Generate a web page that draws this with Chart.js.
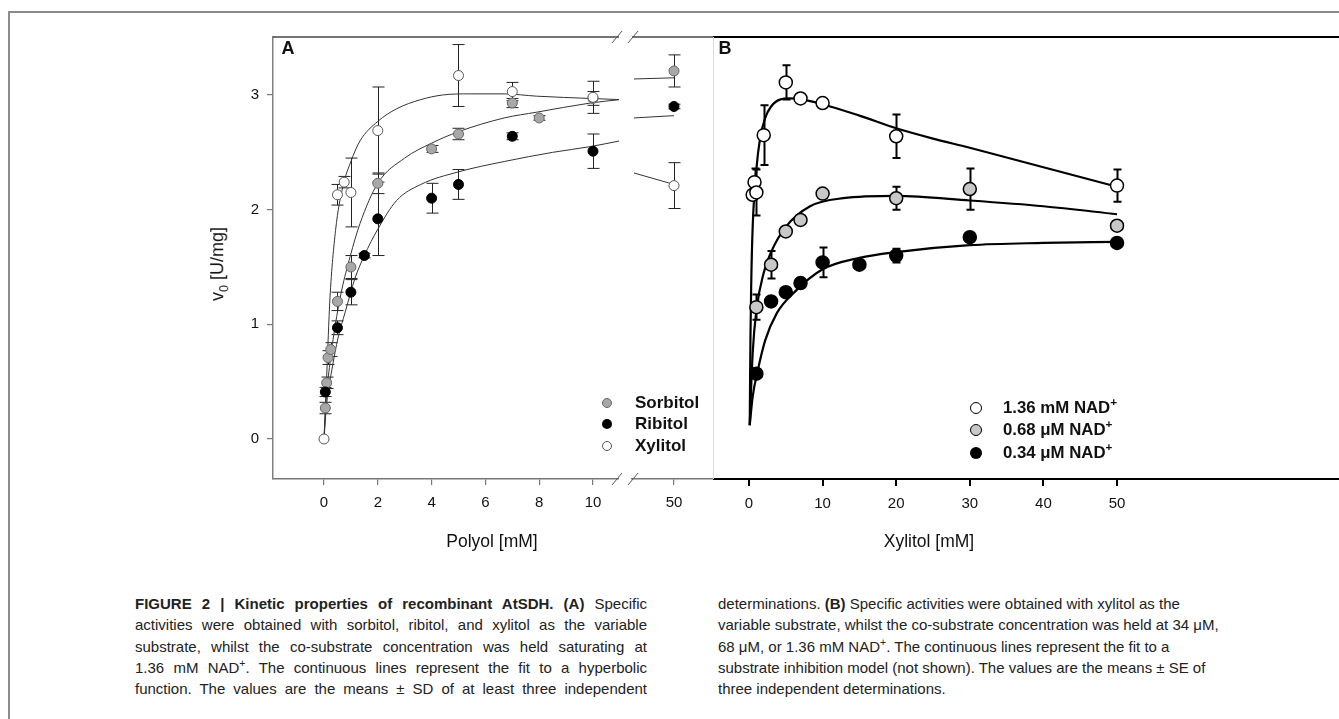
<!DOCTYPE html>
<html>
<head>
<meta charset="utf-8">
<script src="https://cdn.jsdelivr.net/npm/chart.js@4.4.0/dist/chart.umd.min.js"></script>
<style>
  body { margin:0; width:1339px; height:719px; background:#fff; position:relative; overflow:hidden; font-family:"Liberation Sans", Arial, sans-serif; }
  .frame { position:absolute; left:8px; top:11px; width:1400px; height:800px; border-left:2px solid #8c8c8c; border-top:2px solid #8c8c8c; }
  canvas { position:absolute; }
  .t { position:absolute; white-space:nowrap; color:#111; transform:translate(0,-50%); }
  .c { transform:translate(-50%,-50%); }
  .leg { font-weight:bold; }
  .dot { position:absolute; border-radius:50%; box-sizing:border-box; transform:translate(-50%,-50%); }
  .cap { position:absolute; font-size:15px; line-height:21.3px; color:#222; white-space:nowrap; }
  .just div { width:512px; text-align:justify; text-align-last:justify; white-space:normal; }
  sup { font-size:0.7em; line-height:0; }
</style>
</head>
<body>
<div class="frame"></div>

<canvas id="cA1" width="419" height="530" style="left:200px;top:20px"></canvas>
<canvas id="cA2" width="103" height="530" style="left:610px;top:20px"></canvas>
<canvas id="cB" width="626" height="530" style="left:713px;top:20px"></canvas>

<div class="t c" style="left:288px;top:48px;font-weight:bold;font-size:18px">A</div>
<div class="t c" style="left:725px;top:48px;font-weight:bold;font-size:18px">B</div>

<div class="t c" style="left:219px;top:264px;font-size:18px;transform:translate(-50%,-50%) rotate(-90deg)">v<sub style="font-size:0.7em">0</sub> [U/mg]</div>
<div class="t c" style="left:492px;top:541px;font-size:17.5px">Polyol [mM]</div>
<div class="t c" style="left:929px;top:541px;font-size:17.5px">Xylitol [mM]</div>

<div class="dot" style="left:607px;top:403px;width:10px;height:10px;background:#a8a8a8;border:1px solid #666"></div>
<div class="dot" style="left:607px;top:424px;width:10px;height:10px;background:#000"></div>
<div class="dot" style="left:607px;top:446px;width:10px;height:10px;background:#fff;border:1px solid #555"></div>
<div class="t leg" style="left:635px;top:403px;font-size:17px">Sorbitol</div>
<div class="t leg" style="left:635px;top:424px;font-size:17px">Ribitol</div>
<div class="t leg" style="left:635px;top:446px;font-size:17px">Xylitol</div>

<div class="dot" style="left:976px;top:408px;width:12px;height:12px;background:#fff;border:1.5px solid #000"></div>
<div class="dot" style="left:976px;top:430px;width:12px;height:12px;background:#c8c8c8;border:1.5px solid #000"></div>
<div class="dot" style="left:976px;top:453px;width:12px;height:12px;background:#000"></div>
<div class="t leg" style="left:1003px;top:408px;font-size:16.8px">1.36 mM NAD<sup>+</sup></div>
<div class="t leg" style="left:1003px;top:430px;font-size:16.8px">0.68 μM NAD<sup>+</sup></div>
<div class="t leg" style="left:1003px;top:453px;font-size:16.8px">0.34 μM NAD<sup>+</sup></div>

<div class="cap just" style="left:135px;top:593px">
<div><b>FIGURE 2 | Kinetic properties of recombinant AtSDH. (A)</b> Specific</div>
<div>activities were obtained with sorbitol, ribitol, and xylitol as the variable</div>
<div>substrate, whilst the co-substrate concentration was held saturating at</div>
<div>1.36 mM NAD<sup>+</sup>. The continuous lines represent the fit to a hyperbolic</div>
<div>function. The values are the means ± SD of at least three independent</div>
</div>
<div class="cap" style="left:718px;top:593px">
determinations. <b>(B)</b> Specific activities were obtained with xylitol as the<br>
variable substrate, whilst the co-substrate concentration was held at 34 μM,<br>
68 μM, or 1.36 mM NAD<sup>+</sup>. The continuous lines represent the fit to a<br>
substrate inhibition model (not shown). The values are the means ± SE of<br>
three independent determinations.
</div>

<script>
// ---- panel A data (polyol, 1.36 mM NAD+) ----
var sorbitolConc = [0.05, 0.1, 0.15, 0.25, 0.5, 1, 2, 4, 5, 7, 8, 10];
var sorbitolRate = [0.27, 0.49, 0.71, 0.78, 1.20, 1.50, 2.23, 2.53, 2.66, 2.93, 2.80, 2.97];
var sorbitolSD   = [0.05, 0.05, 0.06, 0.06, 0.08, 0.10, 0.09, 0.03, 0.05, 0.04, 0.02, 0.06];
var ribitolConc = [0.05, 0.5, 1, 1.5, 2, 4, 5, 7, 10];
var ribitolRate = [0.41, 0.97, 1.28, 1.60, 1.92, 2.10, 2.22, 2.64, 2.51];
var ribitolSD   = [0.04, 0.06, 0.11, 0.02, 0.32, 0.13, 0.13, 0.03, 0.15];
var xylitolConc = [0, 0.5, 0.75, 1, 2, 5, 7, 10];
var xylitolRate = [0, 2.13, 2.24, 2.15, 2.69, 3.17, 3.03, 2.98];
var xylitolSD   = [0, 0.09, 0.05, 0.30, 0.38, 0.27, 0.08, 0.14];

// 50 mM points, right of the axis break
var highConc = [50];
var sorbitolHigh = [3.21], sorbitolHighSD = [0.14];
var ribitolHigh = [2.90], ribitolHighSD = [0.02];
var xylitolHigh = [2.21], xylitolHighSD = [0.20];

// fitted curves
var sorbitolFitX = [0, 0.07, 0.22, 0.41, 0.66, 0.97, 1.34, 2, 3, 4, 5, 6.7, 7.9, 9.9, 11];
var sorbitolFitY = [0, 0.31, 0.66, 0.98, 1.30, 1.59, 1.88, 2.23, 2.45, 2.58, 2.68, 2.80, 2.85, 2.93, 2.96];
var ribitolFitX = [0, 0.1, 0.29, 0.53, 0.78, 1.15, 1.5, 2, 2.7, 3.6, 5, 6.7, 8.5, 9.9, 11];
var ribitolFitY = [0, 0.31, 0.60, 0.89, 1.10, 1.40, 1.60, 1.83, 2.08, 2.22, 2.33, 2.42, 2.50, 2.55, 2.60];
var xylitolFitX = [0, 0.1, 0.22, 0.43, 0.7, 1, 1.34, 2, 2.7, 3.6, 4.4, 5.4, 6.7, 7.9, 9.9, 11];
var xylitolFitY = [0, 0.55, 1.22, 1.82, 2.2, 2.42, 2.6, 2.77, 2.88, 2.96, 3.0, 3.01, 3.01, 2.99, 2.97, 2.96];
var highFitX = [42, 50];
var sorbitolHighFit = [3.14, 3.15];
var ribitolHighFit = [2.80, 2.82];
var xylitolHighFit = [2.32, 2.22];

// ---- panel B data (xylitol at three NAD+ levels) ----
var nad136Conc = [0.5, 0.75, 1, 2, 5, 7, 10, 20, 50];
var nad136Rate = [2.13, 2.24, 2.15, 2.65, 3.11, 2.97, 2.93, 2.64, 2.21];
var nad136SE   = [0, 0.12, 0.20, 0.26, 0.15, 0, 0, 0.19, 0.14];
var nad068Conc = [1, 3, 5, 7, 10, 20, 30, 50];
var nad068Rate = [1.15, 1.52, 1.81, 1.91, 2.14, 2.10, 2.18, 1.86];
var nad068SE   = [0.11, 0.12, 0, 0, 0, 0.10, 0.18, 0];
var nad034Conc = [1, 3, 5, 7, 10, 15, 20, 30, 50];
var nad034Rate = [0.57, 1.20, 1.28, 1.36, 1.54, 1.52, 1.60, 1.76, 1.71];
var nad034SE   = [0, 0, 0, 0, 0.13, 0, 0.06, 0, 0];

var fit136X = [0.1, 0.2, 0.3, 0.5, 1, 1.5, 2.2, 3, 4.2, 5.6, 7.2, 10, 15, 20, 25, 30, 40, 50];
var fit136Y = [0.12, 0.9, 1.35, 1.85, 2.35, 2.62, 2.80, 2.90, 2.96, 2.97, 2.96, 2.92, 2.82, 2.71, 2.62, 2.54, 2.37, 2.20];
var fit068X = [0.1, 0.5, 1, 2, 3, 5, 8.3, 12.8, 20, 30, 40, 50];
var fit068Y = [0.12, 0.75, 1.12, 1.45, 1.63, 1.85, 2.03, 2.10, 2.12, 2.08, 2.03, 1.96];
var fit034X = [0.1, 0.5, 1.2, 2.2, 3.8, 6, 10, 15, 20, 30, 40, 50];
var fit034Y = [0.12, 0.37, 0.60, 0.86, 1.10, 1.27, 1.48, 1.58, 1.63, 1.69, 1.71, 1.72];

// tick labels
var yTicks = [0, 1, 2, 3];
var xTicksA = [0, 2, 4, 6, 8, 10];
var xTicksBreak = [50];
var xTicksB = [0, 10, 20, 30, 40, 50];

var yMin = -0.349, yMax = 3.506;

function pts(xs, ys) {
	return xs.map(function(x, i) { return {x: x, y: ys[i]}; });
}

// vertical error bars drawn with the chart's own scales
var errorBars = {
	id: 'errorBars',
	beforeDatasetsDraw: function(chart, args, opts) {
		var ctx = chart.ctx, sx = chart.scales.x, sy = chart.scales.y, a = chart.chartArea;
		ctx.save();
		ctx.beginPath();
		ctx.rect(a.left, a.top - 20, a.right - a.left, a.bottom - a.top + 20);
		ctx.clip();
		ctx.strokeStyle = opts.color;
		ctx.lineWidth = opts.width;
		chart.data.datasets.forEach(function(ds) {
			if (!ds.errors) return;
			ds.data.forEach(function(p, i) {
				var e = ds.errors[i];
				if (!e) return;
				var x = Math.round(sx.getPixelForValue(p.x)) + 0.5;
				var y1 = sy.getPixelForValue(p.y + e), y2 = sy.getPixelForValue(p.y - e);
				ctx.beginPath();
				ctx.moveTo(x, y1); ctx.lineTo(x, y2);
				ctx.moveTo(x - opts.cap, y1); ctx.lineTo(x + opts.cap, y1);
				ctx.moveTo(x - opts.cap, y2); ctx.lineTo(x + opts.cap, y2);
				ctx.stroke();
			});
		});
		ctx.restore();
	}
};

// panel borders and the axis break marks
var frame = {
	id: 'frame',
	afterDraw: function(chart, args, opts) {
		var ctx = chart.ctx, a = chart.chartArea;
		ctx.save();
		if (opts.top) {
			ctx.strokeStyle = opts.top.color; ctx.lineWidth = opts.top.width;
			ctx.beginPath(); ctx.moveTo(a.left, a.top); ctx.lineTo(a.right, a.top); ctx.stroke();
		}
		if (opts.left) {
			ctx.strokeStyle = opts.left.color; ctx.lineWidth = opts.left.width;
			ctx.beginPath(); ctx.moveTo(a.left + 0.5, a.top); ctx.lineTo(a.left + 0.5, a.bottom); ctx.stroke();
		}
		if (opts.slashes) {
			ctx.strokeStyle = '#555'; ctx.lineWidth = 1;
			opts.slashes.forEach(function(dx) {
				[a.top, a.bottom].forEach(function(y) {
					ctx.beginPath();
					ctx.moveTo(a.left + dx - 5, y + 6);
					ctx.lineTo(a.left + dx + 5, y - 6);
					ctx.stroke();
				});
			});
		}
		ctx.restore();
	}
};

var tickFont = {family: "'Liberation Sans', Arial, sans-serif", size: 15};

function xAxis(min, max, list, thick) {
	return {
		type: 'linear', min: min, max: max,
		afterBuildTicks: function(s) { s.ticks = list.map(function(v) { return {value: v}; }); },
		afterFit: function(s) { s.height = 71; s.paddingLeft = 0; s.paddingRight = 0; },
		grid: {drawOnChartArea: false, tickLength: thick ? 7 : 6, color: thick ? '#000' : '#777', lineWidth: thick ? 2 : 1.2},
		border: {color: thick ? '#000' : '#777', width: thick ? 2 : 1.5},
		ticks: {font: tickFont, color: '#111', padding: 9, maxRotation: 0}
	};
}

function yAxis(show) {
	return {
		type: 'linear', min: yMin, max: yMax, display: show,
		afterBuildTicks: function(s) { s.ticks = yTicks.map(function(v) { return {value: v}; }); },
		afterFit: function(s) { s.width = show ? 73 : 0; s.paddingTop = 0; s.paddingBottom = 0; },
		grid: {drawOnChartArea: false, tickLength: 6, color: '#777', lineWidth: 1.2},
		border: {color: '#808080', width: 1.5},
		ticks: {font: tickFont, color: '#111', padding: 8}
	};
}

function pointSet(xs, ys, errs, fill, edge, r, bw) {
	return {data: pts(xs, ys), errors: errs, backgroundColor: fill, borderColor: edge,
		pointRadius: r, pointBorderWidth: bw, pointHoverRadius: r, order: 0};
}
function fitSet(xs, ys, color, w) {
	return {data: pts(xs, ys), showLine: true, pointRadius: 0, borderColor: color, borderWidth: w,
		cubicInterpolationMode: 'monotone', order: 1};
}

function baseOptions(xScale, showY, padLeft, errOpts, frameOpts) {
	return {
		responsive: false, animation: false, events: [],
		layout: {autoPadding: false, padding: {top: 17, left: padLeft, right: 0, bottom: 0}},
		plugins: {legend: {display: false}, tooltip: {enabled: false}, errorBars: errOpts, frame: frameOpts},
		scales: {x: xScale, y: yAxis(showY)}
	};
}

var errA = {color: '#222', width: 1, cap: 6};
var lineA = '#333';

// panel A, 0-11 mM
new Chart(document.getElementById('cA1'), {
	type: 'scatter',
	data: {datasets: [
		pointSet(xylitolConc, xylitolRate, xylitolSD, '#fff', '#555', 5, 1),
		pointSet(ribitolConc, ribitolRate, ribitolSD, '#000', '#000', 5, 1),
		pointSet(sorbitolConc, sorbitolRate, sorbitolSD, '#a8a8a8', '#666', 5, 1),
		fitSet(sorbitolFitX, sorbitolFitY, lineA, 1),
		fitSet(ribitolFitX, ribitolFitY, lineA, 1),
		fitSet(xylitolFitX, xylitolFitY, lineA, 1)
	]},
	options: baseOptions(xAxis(-1.896, 10.967, xTicksA, false), true, 0, errA,
		{top: {color: '#444', width: 1.5}}),
	plugins: [errorBars, frame]
});

// panel A, after the break (50 mM)
new Chart(document.getElementById('cA2'), {
	type: 'scatter',
	data: {datasets: [
		pointSet(highConc, xylitolHigh, xylitolHighSD, '#fff', '#555', 5, 1),
		pointSet(highConc, ribitolHigh, ribitolHighSD, '#000', '#000', 5, 1),
		pointSet(highConc, sorbitolHigh, sorbitolHighSD, '#a8a8a8', '#666', 5, 1),
		fitSet(highFitX, sorbitolHighFit, lineA, 1),
		fitSet(highFitX, ribitolHighFit, lineA, 1),
		fitSet(highFitX, xylitolHighFit, lineA, 1)
	]},
	options: baseOptions(xAxis(41.6, 57.8, xTicksBreak, false), false, 22, errA,
		{top: {color: '#444', width: 1.5}, slashes: [-15, 1]}),
	plugins: [errorBars, frame]
});

// panel B
new Chart(document.getElementById('cB'), {
	type: 'scatter',
	data: {datasets: [
		pointSet(nad034Conc, nad034Rate, nad034SE, '#000', '#000', 6.5, 1.5),
		pointSet(nad068Conc, nad068Rate, nad068SE, '#c8c8c8', '#000', 6.5, 1.5),
		pointSet(nad136Conc, nad136Rate, nad136SE, '#fff', '#000', 6.5, 1.5),
		fitSet(fit136X, fit136Y, '#000', 2.2),
		fitSet(fit068X, fit068Y, '#000', 2.2),
		fitSet(fit034X, fit034Y, '#000', 2.2)
	]},
	options: baseOptions(xAxis(-4.891, 80.16, xTicksB, true), false, 0, {color: '#000', width: 2, cap: 4},
		{top: {color: '#000', width: 2}, left: {color: '#ddd', width: 1}}),
	plugins: [errorBars, frame]
});
</script>
</body>
</html>
